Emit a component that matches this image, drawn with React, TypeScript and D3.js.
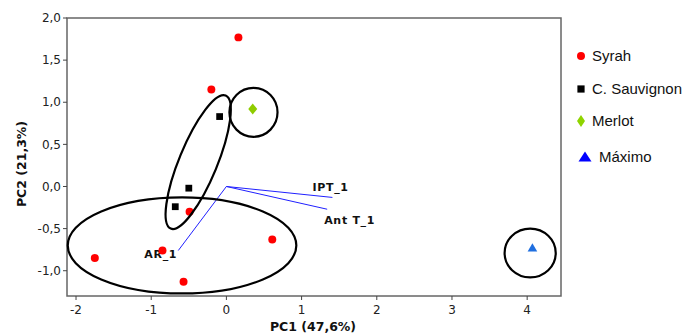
import React from "react";
import * as d3 from "d3";

// ---- data ----
const syrahX = [0.16, -0.20, -0.49, 0.61, -1.75, -0.85, -0.57];
const syrahY = [1.77, 1.15, -0.30, -0.63, -0.85, -0.76, -1.13];
const sauvX = [-0.09, -0.50, -0.68];
const sauvY = [0.83, -0.02, -0.24];
const merlotX = [0.35];
const merlotY = [0.92];
const maximoX = [4.07];
const maximoY = [-0.74];

const loadingNames = ["IPT_1", "Ant T_1", "AR_1"];
const loadingX = [1.41, 1.34, -0.64];
const loadingY = [-0.13, -0.27, -0.76];

const xTicks = [-2, -1, 0, 1, 2, 3, 4];
const yTicks = [-1.0, -0.5, 0.0, 0.5, 1.0, 1.5, 2.0];

const legendNames = ["Syrah", "C. Sauvignon", "Merlot", "Máximo"];

// group ellipses (data units): cx, cy, rx, ry
const ellipseCX = [-0.59, 0.36, 4.04];
const ellipseCY = [-0.70, 0.88, -0.79];
const ellipseRX = [1.52, 0.32, 0.34];
const ellipseRY = [0.57, 0.29, 0.29];
// tilted ellipse given by its two tips (data units)
const tiltTipA = [-0.74, -0.50];
const tiltTipB = [-0.01, 1.08];

// ---- layout / style ----
const W = 690, H = 334;
const L = 67, R = 561, T = 18, B = 296;
const FONT = "'DejaVu Sans', Verdana, sans-serif";
const LEGEND_FONT = "'Liberation Sans', Arial, sans-serif";

const labelOffsets = [
  { dx: -20, dy: -6 },
  { dx: -3, dy: 15 },
  { dx: -34, dy: 7 },
];

export default function App() {
  const x = d3.scaleLinear().domain([-2.12, 4.45]).range([L, R]);
  const y = d3.scaleLinear().domain([-1.3, 2.0]).range([B, T]);

  const fmt = (v: number) => d3.format(".1f")(v).replace(".", ",").replace("−", "-");

  const circle = d3.symbol().type(d3.symbolCircle).size(50)()!;
  const square = d3.symbol().type(d3.symbolSquare).size(46)()!;
  const diamondPlot = "M0,-5.5L4.5,0L0,5.5L-4.5,0Z";
  const tri = d3.symbol().type(d3.symbolTriangle).size(40)()!;

  // tilted ellipse geometry in screen space
  const ax = x(tiltTipA[0]), ay = y(tiltTipA[1]);
  const bx = x(tiltTipB[0]), by = y(tiltTipB[1]);
  const tcx = (ax + bx) / 2, tcy = (ay + by) / 2;
  const tLen = Math.hypot(bx - ax, by - ay) / 2;
  const tAng = (Math.atan2(by - ay, bx - ax) * 180) / Math.PI;

  const legendY = [56, 89, 121, 157];

  return (
    <svg width={W} height={H} style={{ position: "absolute", left: 0, top: 0, background: "#fff" }}>
      {/* frame */}
      <rect x={L} y={T} width={R - L} height={B - T} fill="none" stroke="#666" strokeWidth={1.5} />

      {/* y axis ticks */}
      {yTicks.map((v) => (
        <g key={"y" + v}>
          <line x1={L - 4} x2={L} y1={y(v)} y2={y(v)} stroke="#444" />
          <text x={L - 6} y={y(v)} dy="0.35em" textAnchor="end" fontFamily={FONT} fontSize={12} fill="#222">
            {fmt(v)}
          </text>
        </g>
      ))}
      {/* x axis ticks */}
      {xTicks.map((v) => (
        <g key={"x" + v}>
          <line x1={x(v)} x2={x(v)} y1={B} y2={B + 4} stroke="#444" />
          <text x={x(v)} y={B + 18} textAnchor="middle" fontFamily={FONT} fontSize={12} fill="#222">
            {v}
          </text>
        </g>
      ))}

      {/* axis titles */}
      <text x={313} y={331} textAnchor="middle" fontFamily={FONT} fontWeight="bold" fontSize={12.5} fill="#111">
        PC1 (47,6%)
      </text>
      <text
        transform={`translate(26,164) rotate(-90)`}
        textAnchor="middle"
        fontFamily={FONT}
        fontWeight="bold"
        fontSize={12.5}
        fill="#111"
      >
        PC2 (21,3%)
      </text>

      {/* loadings */}
      {loadingNames.map((n, i) => (
        <g key={n}>
          <line x1={x(0)} y1={y(0)} x2={x(loadingX[i])} y2={y(loadingY[i])} stroke="#2020ff" strokeWidth={1} />
          <text
            x={x(loadingX[i]) + labelOffsets[i].dx}
            y={y(loadingY[i]) + labelOffsets[i].dy}
            fontFamily={FONT}
            fontWeight="bold"
            fontSize={11}
            letterSpacing={0.7}
            fill="#111"
          >
            {n}
          </text>
        </g>
      ))}

      {/* points */}
      {syrahX.map((v, i) => (
        <path key={"s" + i} d={circle} transform={`translate(${x(v)},${y(syrahY[i])})`} fill="#ff0000" />
      ))}
      {sauvX.map((v, i) => (
        <path key={"c" + i} d={square} transform={`translate(${x(v)},${y(sauvY[i])})`} fill="#000" />
      ))}
      {merlotX.map((v, i) => (
        <path key={"m" + i} d={diamondPlot} transform={`translate(${x(v)},${y(merlotY[i])})`} fill="#8fcc00" />
      ))}
      {maximoX.map((v, i) => (
        <path key={"x" + i} d={tri} transform={`translate(${x(v)},${y(maximoY[i])})`} fill="#1f6fe0" />
      ))}

      {/* ellipses */}
      {ellipseCX.map((cx, i) => (
        <ellipse
          key={"e" + i}
          cx={x(cx)}
          cy={y(ellipseCY[i])}
          rx={x(cx + ellipseRX[i]) - x(cx)}
          ry={y(ellipseCY[i] - ellipseRY[i]) - y(ellipseCY[i])}
          fill="none"
          stroke="#000"
          strokeWidth={2.2}
        />
      ))}
      <ellipse
        cx={tcx}
        cy={tcy}
        rx={tLen}
        ry={19}
        transform={`rotate(${tAng},${tcx},${tcy})`}
        fill="none"
        stroke="#000"
        strokeWidth={2.2}
      />

      {/* legend */}
      <g fontFamily={LEGEND_FONT} fontSize={15} fill="#111">
        <path d={d3.symbol().type(d3.symbolCircle).size(50)()!} transform={`translate(581,${legendY[0]})`} fill="#ff0000" />
        <path d={d3.symbol().type(d3.symbolSquare).size(52)()!} transform={`translate(581,${legendY[1]})`} fill="#000" />
        <path d="M0,-6L4,0L0,6L-4,0Z" transform={`translate(581,${legendY[2]})`} fill="#8fd400" />
        <path d="M0,-5.5L6.5,4.5L-6.5,4.5Z" transform={`translate(585,${legendY[3]})`} fill="#0000ff" />
        {legendNames.map((n, i) => (
          <text key={n} x={i === 3 ? 599 : 592} y={legendY[i]} dy="0.35em">
            {n}
          </text>
        ))}
      </g>
    </svg>
  );
}
